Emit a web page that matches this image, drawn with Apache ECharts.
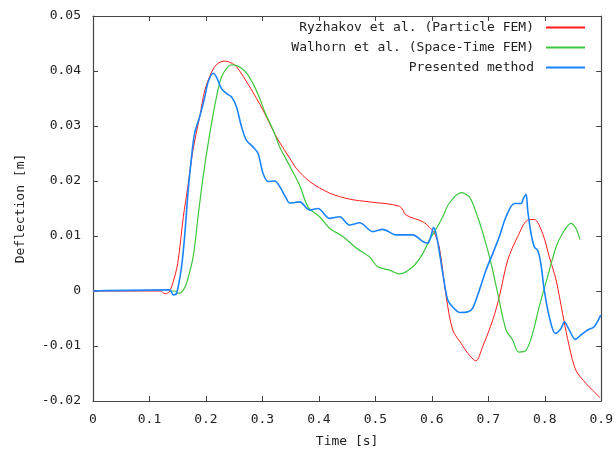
<!DOCTYPE html>
<html><head><meta charset="utf-8">
<script src="https://cdn.jsdelivr.net/npm/echarts@6/dist/echarts.min.js"></script>
<style>html,body{margin:0;padding:0;background:#fff}#c{width:616px;height:459px}</style>
</head><body><div id="c"></div>
<script>
const seriesNames = ['Ryzhakov et al. (Particle FEM)', 'Walhorn et al. (Space-Time FEM)', 'Presented method'];
const xTickLabels = ['0','0.1','0.2','0.3','0.4','0.5','0.6','0.7','0.8','0.9'];
const yTickLabels = ['-0.02','-0.01','0','0.01','0.02','0.03','0.04','0.05'];

const ryzhakovT = [0,0.12,0.124,0.128,0.132,0.136,0.1415,0.150,0.160,0.168,0.177,0.189,0.198,0.210,0.220,0.2334,0.244,0.254,0.2776,0.301,0.3248,0.348,0.360,0.3837,0.419,0.4544,0.4897,0.5428,0.5546,0.584,0.5958,0.6047,0.6135,0.6254,0.637,0.6518,0.6636,0.678,0.690,0.7078,0.7196,0.7343,0.752,0.7697,0.7815,0.796,0.808,0.820,0.8315,0.8434,0.855,0.873,0.898];
const ryzhakovD = [0,0,-0.0003,-0.0005,-0.0004,0,0.0015,0.005,0.0135,0.019,0.0256,0.0317,0.0365,0.0398,0.0413,0.0418,0.0415,0.0408,0.0371,0.0329,0.0280,0.0242,0.0223,0.0199,0.0178,0.0167,0.0162,0.0154,0.0138,0.0126,0.0116,0.0105,0.0078,-0.0010,-0.0071,-0.0095,-0.0113,-0.0127,-0.0101,-0.0053,-0.0010,0.0056,0.0099,0.0129,0.0130,0.0105,0.0062,0.0020,-0.0041,-0.0101,-0.0144,-0.0168,-0.0194];

const walhornT = [0.136,0.145,0.150,0.1538,0.160,0.1657,0.1773,0.186,0.195,0.2069,0.2187,0.2275,0.2393,0.248,0.2687,0.2834,0.2953,0.304,0.3188,0.3306,0.348,0.366,0.3807,0.4013,0.419,0.4425,0.4662,0.4897,0.5044,0.525,0.5428,0.5663,0.584,0.5958,0.6077,0.6194,0.631,0.6518,0.6666,0.681,0.693,0.705,0.7166,0.7314,0.743,0.7537,0.7668,0.7785,0.790,0.805,0.820,0.8315,0.8463,0.855,0.8622];
const walhornD = [0,0,-0.0004,-0.0004,0.0002,0.0014,0.0062,0.0135,0.0208,0.0287,0.0353,0.0389,0.0408,0.0411,0.0400,0.0377,0.0350,0.0326,0.0293,0.0262,0.0228,0.0192,0.0153,0.0135,0.0114,0.0099,0.0078,0.0062,0.0044,0.0038,0.0031,0.0044,0.0068,0.0093,0.0113,0.0135,0.0160,0.0179,0.0171,0.0135,0.0096,0.0050,-0.0004,-0.0071,-0.0089,-0.0111,-0.0108,-0.0077,-0.0029,0.0026,0.0080,0.0105,0.0123,0.0114,0.0094];

const presentedT = [0,0.136,0.142,0.148,0.1568,0.1627,0.1685,0.1745,0.180,0.189,0.198,0.2039,0.2127,0.2187,0.2275,0.2364,0.2452,0.254,0.2629,0.2717,0.2834,0.2923,0.301,0.310,0.3218,0.3306,0.3425,0.348,0.366,0.3837,0.3984,0.419,0.4367,0.4544,0.472,0.4956,0.513,0.537,0.5663,0.584,0.5928,0.599,0.603,0.6077,0.6135,0.6194,0.628,0.637,0.649,0.6636,0.6724,0.6843,0.696,0.7078,0.7196,0.7314,0.746,0.758,0.762,0.7668,0.7697,0.7756,0.7815,0.7874,0.793,0.799,0.808,0.8185,0.8287,0.8345,0.8434,0.854,0.864,0.8757,0.8875,0.899];
const presentedD = [0,0.0002,-0.0007,-0.0004,0.0044,0.0105,0.0183,0.0244,0.0287,0.0317,0.0353,0.0380,0.0396,0.0389,0.0368,0.0359,0.0353,0.0335,0.0299,0.0274,0.0262,0.0250,0.0214,0.0199,0.0200,0.0190,0.0168,0.0160,0.0162,0.0147,0.0150,0.0132,0.0135,0.0120,0.0124,0.0108,0.0112,0.0102,0.0102,0.0090,0.0087,0.0102,0.0116,0.0103,0.0070,0.0032,-0.0016,-0.0029,-0.0039,-0.0038,-0.0031,0.0002,0.0038,0.0068,0.0099,0.0135,0.0159,0.0159,0.0168,0.0176,0.0147,0.0105,0.0080,0.0074,0.0050,0.0002,-0.0047,-0.0077,-0.0068,-0.0056,-0.0071,-0.0088,-0.0080,-0.0071,-0.0065,-0.0044];

const zip = (a, b) => a.map((v, i) => [v, b[i]]);
const colors = ['#ff1a1a', '#3cc83c', '#1a84ff'];
const widths = [1, 1.2, 1.6];
const FONT = 'DejaVu Sans Mono';
const txt = '#222';
const border = '#444';

const xLab = v => xTickLabels[Math.round(v * 10)] ?? '';
const yLab = v => yTickLabels[Math.round((v + 0.02) * 100)] ?? '';

const chart = echarts.init(document.getElementById('c'), null, {renderer: 'canvas'});
const grid = {left: 93, right: 14, top: 16, bottom: 58, containLabel: false};
const axisCommon = {
  axisLine: {show: true, onZero: false, lineStyle: {color: border, width: 1.2}},
  axisTick: {show: true, inside: true, length: 5, lineStyle: {color: border}},
  splitLine: {show: false}
};
chart.setOption({
  animation: false,
  backgroundColor: '#fff',
  grid: grid,
  xAxis: [
    Object.assign({type: 'value', min: 0, max: 0.9, interval: 0.1, position: 'bottom',
      name: 'Time [s]', nameLocation: 'middle', nameGap: 34,
      nameTextStyle: {fontFamily: FONT, fontSize: 13, color: txt},
      axisLabel: {formatter: xLab, fontFamily: FONT, fontSize: 13, color: txt, margin: 12}}, axisCommon),
    Object.assign({type: 'value', min: 0, max: 0.9, interval: 0.1, position: 'top',
      axisLabel: {show: false}}, axisCommon)
  ],
  yAxis: [
    Object.assign({type: 'value', min: -0.02, max: 0.05, interval: 0.01, position: 'left',
      name: 'Deflection [m]', nameLocation: 'middle', nameGap: 66, nameRotate: 90,
      nameTextStyle: {fontFamily: FONT, fontSize: 13, color: txt},
      axisLabel: {formatter: yLab, fontFamily: FONT, fontSize: 13, color: txt, margin: 12}}, axisCommon),
    Object.assign({type: 'value', min: -0.02, max: 0.05, interval: 0.01, position: 'right',
      axisLabel: {show: false}}, axisCommon)
  ],
  legend: seriesNames.map((n, i) => ({
    data: [n], orient: 'vertical', right: 31, top: 21 + i * 20, align: 'right',
    itemWidth: 39, itemHeight: 2, padding: 0,
    icon: 'rect',
    textStyle: {fontFamily: FONT, fontSize: 13, color: txt, padding: [0, 7, 0, 0]}
  })),
  series: [
    {name: seriesNames[0], type: 'line', data: zip(ryzhakovT, ryzhakovD)},
    {name: seriesNames[1], type: 'line', data: zip(walhornT, walhornD)},
    {name: seriesNames[2], type: 'line', data: zip(presentedT, presentedD)}
  ].map((s, i) => Object.assign(s, {
    showSymbol: false, symbol: 'none', smooth: 0.3, color: colors[i],
    lineStyle: {color: colors[i], width: widths[i]}, z: 2 + i
  }))
});
</script></body></html>
